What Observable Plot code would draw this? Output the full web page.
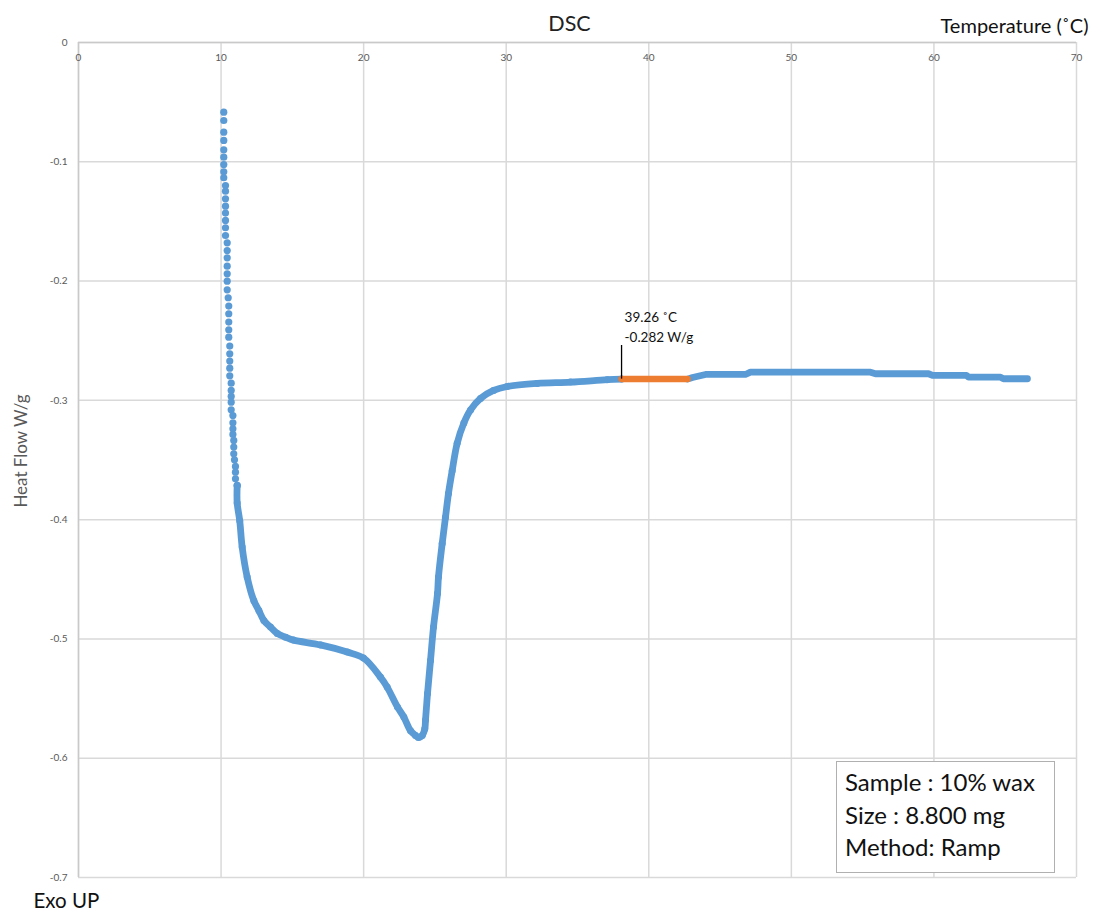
<!DOCTYPE html>
<html><head><meta charset="utf-8">
<script src="https://cdn.jsdelivr.net/npm/d3@7"></script>
<script src="https://cdn.jsdelivr.net/npm/@observablehq/plot@0.6"></script>
<style>
body{margin:0;background:#fff;font-family:Lato,"Open Sans",sans-serif;}
#wrap{position:relative;width:1095px;height:912px;}
#legend{position:absolute;left:836px;top:761px;width:219px;height:112px;border:1.5px solid #b0b0b0;background:#fff;box-sizing:border-box;padding:4px 0 0 8px;font-size:24px;line-height:32.5px;color:#111;}
</style></head><body><div id="wrap"></div>
<script>
// ---- data ----
// steep descending branch: individually visible dots
const steepTemperature = [10.19,10.19,10.19,10.19,10.19,10.19,10.19,10.19,10.19,10.31,10.31,10.31,10.31,10.31,10.31,10.31,10.31,10.43,10.43,10.43,10.43,10.43,10.43,10.43,10.50,10.54,10.54,10.54,10.54,10.54,10.61,10.61,10.61,10.61,10.61,10.71,10.71,10.71,10.71,10.71,10.83,10.83,10.83,10.83,10.89,10.89,10.89,10.94,11.01,11.01,11.01,11.13];
const steepHeatFlow = [-0.0584,-0.0654,-0.0752,-0.0821,-0.0900,-0.0961,-0.1023,-0.1084,-0.1134,-0.1199,-0.1246,-0.1310,-0.1372,-0.1430,-0.1492,-0.1553,-0.1618,-0.1679,-0.1744,-0.1805,-0.1875,-0.1939,-0.2001,-0.2073,-0.2140,-0.2210,-0.2274,-0.2344,-0.2408,-0.2470,-0.2545,-0.2610,-0.2671,-0.2730,-0.2794,-0.2856,-0.2917,-0.2967,-0.3015,-0.3079,-0.3127,-0.3188,-0.3238,-0.3286,-0.3336,-0.3392,-0.3448,-0.3498,-0.3554,-0.3602,-0.3657,-0.3713];
// dense part of the curve (dots overlap into a band)
const temperature = [11.13,11.13,11.31,11.48,11.83,12.30,12.65,13.00,13.47,13.94,14.52,15.08,16.97,18.85,19.99,21.18,21.65,22.37,22.82,23.29,23.64,23.85,24.11,24.29,24.34,24.48,24.69,24.90,25.18,25.25,25.51,25.74,25.95,26.21,26.56,27.03,27.50,28.20,29.11,30.07,32.17,34.51,37.08,38.09];
const heatFlow = [-0.3713,-0.386,-0.401,-0.423,-0.448,-0.468,-0.4761,-0.4845,-0.4901,-0.4954,-0.4985,-0.501,-0.505,-0.511,-0.516,-0.532,-0.5404,-0.557,-0.5655,-0.577,-0.5809,-0.5826,-0.5809,-0.5753,-0.568,-0.5457,-0.518,-0.490,-0.462,-0.448,-0.420,-0.398,-0.378,-0.359,-0.336,-0.319,-0.308,-0.2984,-0.2917,-0.2884,-0.2858,-0.2847,-0.2827,-0.2822];
// stepped tail after the ramp segment
const tailTemperature = [42.72,43.07,43.98,46.78,47.13,55.55,55.90,59.62,59.90,62.28,62.43,64.67,64.88,66.56];
const tailHeatFlow = [-0.2822,-0.2808,-0.2783,-0.2783,-0.2764,-0.2764,-0.2777,-0.2777,-0.2791,-0.2791,-0.2806,-0.2806,-0.2819,-0.2819];
const rampTemperature = [38.09, 42.72];
const rampHeatFlow = [-0.2822, -0.2822];
const annotationT = 38.09;
const annotationHF = [-0.2822, -0.254];
const annotationText = "39.26 ˚C\n-0.282 W/g";
const xTicks = [0,10,20,30,40,50,60,70];
const yTicks = [0,-0.1,-0.2,-0.3,-0.4,-0.5,-0.6,-0.7];
const yTickLabels = ["0","-0.1","-0.2","-0.3","-0.4","-0.5","-0.6","-0.7"];
const title = "DSC";
const xLabel = "Temperature (˚C)";
const yLabel = "Heat Flow W/g";
const cornerNote = "Exo UP";
const legendLines = ["Sample : 10% wax","Size : 8.800 mg","Method: Ramp"];

const steep = steepTemperature.map((t,i)=>({t, hf: steepHeatFlow[i]}));
const dense = temperature.map((t,i)=>({t, hf: heatFlow[i]}));
const tail = tailTemperature.map((t,i)=>({t, hf: tailHeatFlow[i]}));
const ramp = rampTemperature.map((t,i)=>({t, hf: rampHeatFlow[i]}));
const blue = "#5B9BD5", orange = "#ED7D31", grid = "#d9d9d9", tickCol = "#595959";

const chart = Plot.plot({
  width: 1095, height: 912,
  marginTop: 42, marginLeft: 78, marginRight: 19, marginBottom: 35,
  style: {fontFamily: "Lato, 'Open Sans', sans-serif", background: "#fff"},
  x: {domain: [0,70], axis: null},
  y: {domain: [-0.7,0], axis: null},
  marks: [
    Plot.ruleX(xTicks, {stroke: grid, strokeWidth: 1.5}),
    Plot.ruleY(yTicks, {stroke: grid, strokeWidth: 1.5}),
    Plot.ruleX([0], {stroke: "#c9c9c9", strokeWidth: 1.5}),
    Plot.ruleY([0], {stroke: "#c9c9c9", strokeWidth: 1.5}),
    Plot.text(xTicks, {x: d=>d, y: 0, dy: 15, text: d=>String(d), fontSize: 10, fill: tickCol}),
    Plot.text(yTicks, {x: 0, y: d=>d, dx: -11, text: (d,i)=>yTickLabels[i], textAnchor: "end", fontSize: 10, fill: tickCol}),
    Plot.dot(steep, {x: "t", y: "hf", r: 3.6, fill: blue}),
    Plot.line(dense, {x: "t", y: "hf", stroke: blue, strokeWidth: 6.8, curve: "catmull-rom", strokeLinejoin: "round", strokeLinecap: "round"}),
    Plot.line(tail, {x: "t", y: "hf", stroke: blue, strokeWidth: 6.8, strokeLinejoin: "round", strokeLinecap: "round"}),
    Plot.dot(dense, {x: "t", y: "hf", r: 3.5, fill: blue}),
    Plot.line(ramp, {x: "t", y: "hf", stroke: orange, strokeWidth: 6.5}),
    Plot.ruleX([annotationT], {y1: annotationHF[0], y2: annotationHF[1], stroke: "#000", strokeWidth: 1.3}),
    Plot.text([annotationText], {x: annotationT, y: annotationHF[1], dx: 3, dy: -3, textAnchor: "start", lineAnchor: "bottom", lineHeight: 1.55, fontSize: 13.5, fill: "#111"}),
    Plot.text([title], {frameAnchor: "top", dx: -8, dy: -27, fontSize: 21.5, fill: "#222"}),
    Plot.text([xLabel], {frameAnchor: "top-right", dx: 12, dy: -24, textAnchor: "end", fontSize: 20, fill: "#111"}),
    Plot.text([yLabel], {frameAnchor: "left", dx: -57, dy: -9, rotate: -90, textAnchor: "middle", fontSize: 17, fill: tickCol}),
    Plot.text([cornerNote], {frameAnchor: "bottom-left", dx: -45, dy: 30, textAnchor: "start", fontSize: 20.5, fill: "#111"})
  ]
});
const wrap = document.getElementById("wrap");
wrap.appendChild(chart);
const lg = document.createElement("div");
lg.id = "legend";
lg.innerHTML = legendLines.map(s=>`<div>${s}</div>`).join("");
wrap.appendChild(lg);
</script></body></html>
